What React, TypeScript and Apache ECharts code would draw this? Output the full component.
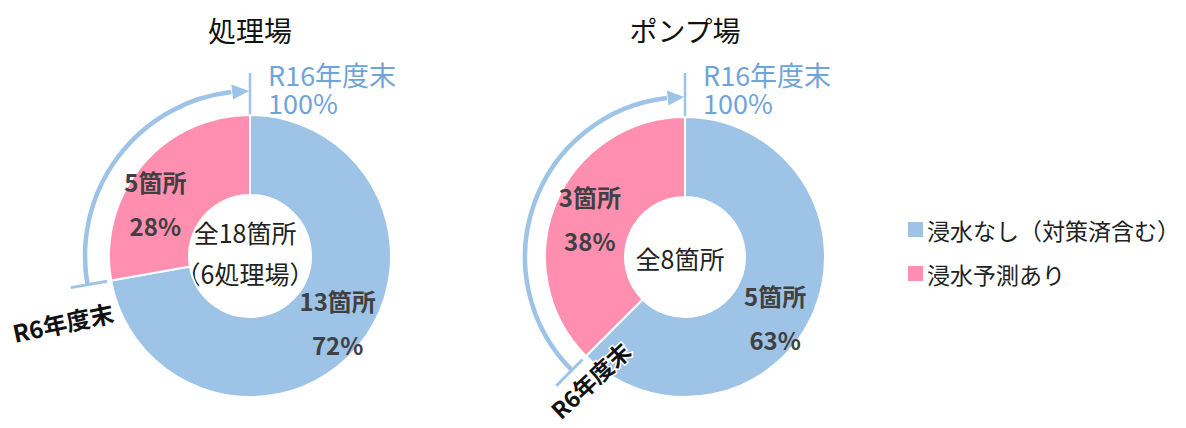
import React, { useEffect, useRef } from "react";
import * as echarts from "echarts";

// ---- data ----
const categories = ["浸水なし（対策済含む）", "浸水予測あり"];
const plantValues = [13, 5];
const pumpValues = [5, 3];
const chartTitles = ["処理場", "ポンプ場"];
const plantCenterLines = ["全18箇所", "（6処理場）"];
const pumpCenterLines = ["全8箇所"];
const targetLines = ["R16年度末", "100%"];
const currentLabel = "R6年度末";
const colors = ["#9DC3E6", "#FF8FB1"];

const FONT = '"Noto Sans CJK JP", "Noto Sans", sans-serif';
const ARC = "#9DC3E6";
const TARGET_TEXT = "#6FA3D9";

type DonutCfg = {
  values: number[];
  title: string;
  centerLines: string[];
  cx: number;
  cy: number;
  r0: number;
  r1: number;
  arcR: number;
  labelShift: number[][];
  r6Pos: number[];
  r6Rot: number;
  r6Size: number;
  targetX: number;
};

const donuts: DonutCfg[] = [
  {
    values: plantValues,
    title: chartTitles[0],
    centerLines: plantCenterLines,
    cx: 250,
    cy: 256,
    r0: 61,
    r1: 141,
    arcR: 165,
    labelShift: [
      [8, 0],
      [-15, 14],
    ],
    r6Pos: [63, 322],
    r6Rot: 12,
    r6Size: 24,
    targetX: 268,
  },
  {
    values: pumpValues,
    title: chartTitles[1],
    centerLines: pumpCenterLines,
    cx: 685,
    cy: 257,
    r0: 60,
    r1: 140,
    arcR: 160,
    labelShift: [
      [-5, 21],
      [0, 1],
    ],
    r6Pos: [590, 380],
    r6Rot: 43,
    r6Size: 23,
    targetX: 703,
  },
];

const deg = Math.PI / 180;

function buildGraphics(d: DonutCfg) {
  const total = d.values.reduce((a, b) => a + b, 0);
  const share = d.values[1] / total;
  const mathAng = 90 + 360 * share; // R6 boundary, math degrees
  const screenStart = -mathAng * deg;
  const arrowBase = -96.5 * deg;
  const arrowTip = -90.3 * deg;
  const els: any[] = [];
  // title
  els.push({
    type: "text",
    x: d.cx,
    y: 30,
    style: {
      text: d.title,
      fontSize: 28,
      fontFamily: FONT,
      fill: "#111",
      textAlign: "center",
      textVerticalAlign: "middle",
    },
  });
  // center text
  const multi = d.centerLines.length > 1;
  d.centerLines.forEach((line, i) => {
    els.push({
      type: "text",
      x: d.cx - 5,
      y: multi ? d.cy - 24 + i * 41 : d.cy + 1,
      style: {
        text: line,
        fontSize: 25,
        fontFamily: FONT,
        fill: "#222",
        textAlign: "center",
        textVerticalAlign: "middle",
      },
    });
  });
  // arc
  els.push({
    type: "arc",
    shape: {
      cx: d.cx,
      cy: d.cy,
      r: d.arcR,
      startAngle: screenStart,
      endAngle: arrowBase,
      clockwise: true,
    },
    style: { stroke: ARC, lineWidth: 4.5, fill: null },
  });
  // arrow head
  const p = (r: number, a: number) => [d.cx + r * Math.cos(a), d.cy + r * Math.sin(a)];
  els.push({
    type: "polygon",
    shape: {
      points: [p(d.arcR - 7.5, arrowBase + 0.3 * deg), p(d.arcR + 7.5, arrowBase + 0.3 * deg), p(d.arcR, arrowTip)],
    },
    style: { fill: ARC },
  });
  // R6 tick
  const ma = mathAng * deg;
  els.push({
    type: "line",
    shape: {
      x1: d.cx + 145 * Math.cos(ma),
      y1: d.cy - 145 * Math.sin(ma),
      x2: d.cx + 182 * Math.cos(ma),
      y2: d.cy - 182 * Math.sin(ma),
    },
    style: { stroke: ARC, lineWidth: 3 },
  });
  // R16 tick
  els.push({
    type: "line",
    shape: { x1: d.cx, y1: 73, x2: d.cx, y2: d.cy - d.r1 },
    style: { stroke: ARC, lineWidth: 2.5 },
  });
  // R16 text (two lines)
  els.push({
    type: "text",
    x: d.targetX,
    y: 88,
    style: {
      text: targetLines.join("\n"),
      fontSize: 27,
      lineHeight: 28,
      fontFamily: FONT,
      fill: TARGET_TEXT,
      textAlign: "left",
      textVerticalAlign: "middle",
    },
  });
  // R6 text
  els.push({
    type: "text",
    x: d.r6Pos[0],
    y: d.r6Pos[1],
    rotation: d.r6Rot * deg,
    z: 100,
    style: {
      text: currentLabel,
      fontSize: d.r6Size,
      fontWeight: "bold",
      fontFamily: FONT,
      fill: "#111",
      stroke: "#fff",
      lineWidth: 3,
      textAlign: "center",
      textVerticalAlign: "middle",
    },
  });
  return els;
}

function buildSeries(d: DonutCfg) {
  return {
    type: "pie",
    center: [d.cx, d.cy],
    radius: [d.r0, d.r1],
    startAngle: 90,
    clockwise: true,
    silent: true,
    avoidLabelOverlap: false,
    itemStyle: { borderColor: "#fff", borderWidth: 2 },
    emphasis: { disabled: true },
    labelLine: { show: false },
    label: {
      show: true,
      position: "inside",
      fontFamily: FONT,
      fontSize: 24,
      fontWeight: "bold",
      color: "#404040",
      lineHeight: 44,
      formatter: (pp: any) => `${pp.value}箇所\n${Math.round(pp.percent)}%`,
    },
    labelLayout: (pp: any) => ({
      dx: d.labelShift[pp.dataIndex][0],
      dy: d.labelShift[pp.dataIndex][1],
    }),
    data: d.values.map((v, i) => ({
      name: categories[i],
      value: v,
      itemStyle: { color: colors[i] },
    })),
  };
}

export default function App() {
  const ref = useRef<HTMLDivElement>(null);
  useEffect(() => {
    document.body.style.margin = "0";
    if (!ref.current) return;
    const chart = echarts.init(ref.current, null, { renderer: "svg" });
    chart.setOption({
      animation: false,
      textStyle: { fontFamily: FONT },
      legend: {
        data: categories,
        orient: "vertical",
        left: 901,
        top: 213,
        icon: "rect",
        itemWidth: 17,
        itemHeight: 17,
        itemGap: 21,
        selectedMode: false,
        textStyle: { fontSize: 23, color: "#222", fontFamily: FONT, padding: [0, 0, 0, -2] },
      },
      series: donuts.map(buildSeries),
      graphic: donuts.flatMap(buildGraphics),
    });
    return () => chart.dispose();
  }, []);
  return <div ref={ref} style={{ width: 1186, height: 428 }} />;
}
